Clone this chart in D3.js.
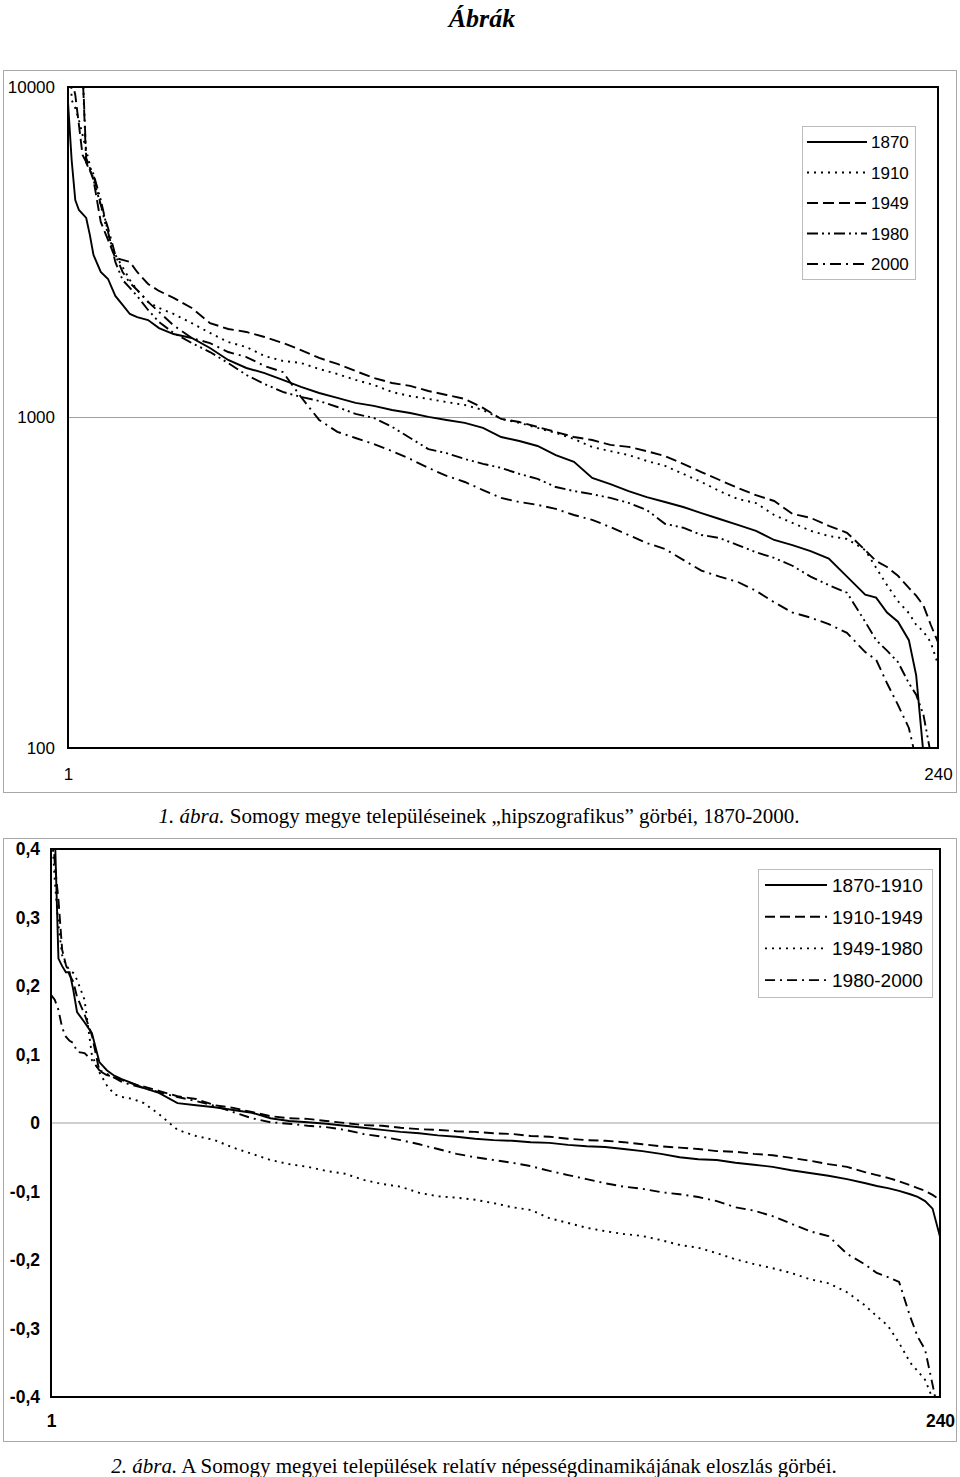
<!DOCTYPE html>
<html>
<head>
<meta charset="utf-8">
<script src="https://cdn.jsdelivr.net/npm/d3@7/dist/d3.min.js"></script>
<style>
  html, body { margin: 0; padding: 0; background: #fff; }
  svg { display: block; }
</style>
</head>
<body>
<script>
// ---------- DATA ----------
const ranks = [1,2,3,4,5,6,7,8,10,12,14,16,18,20,23,26,30,35,40,45,50,55,60,65,70,75,80,85,90,95,100,105,110,115,120,125,130,135,140,145,150,155,160,165,170,175,180,185,190,195,200,205,210,215,220,223,226,229,232,234,236,238,240];

// Figure 1: population by rank (log scale)
const pop1870 = [9010,6015,4552,4246,4130,4016,3568,3104,2757,2625,2332,2191,2057,2013,1972,1865,1789,1740,1623,1493,1412,1363,1299,1237,1186,1146,1107,1084,1054,1032,1004,983,963,930,873,849,820,770,734,656,629,599,574,555,536,514,493,473,454,426,411,394,374,330,291,285,257,241,212,166,96,76,66];
const pop1910 = [24100,9133,8638,7947,7159,6449,5810,5233,4397,3568,3103,2854,2607,2432,2237,2145,2057,1931,1802,1692,1634,1535,1483,1462,1402,1354,1299,1255,1194,1161,1138,1114,1091,1054,990,963,930,898,861,814,791,770,739,714,675,638,599,567,551,507,480,454,438,429,397,351,311,278,256,236,225,209,179];
const pop1949 = [33000,10600,9458,7676,6229,5932,5610,5233,3905,3445,3039,2997,2956,2757,2535,2415,2300,2145,1931,1853,1815,1752,1681,1600,1514,1452,1382,1317,1272,1246,1203,1170,1138,1069,990,969,936,904,873,855,826,815,791,764,724,684,647,612,582,559,511,497,470,448,397,368,353,332,305,289,270,236,209];
const pop1980 = [72000,20500,12800,12200,11500,6099,5690,5456,4552,3643,2956,2607,2466,2332,2115,1945,1802,1680,1578,1462,1345,1263,1195,1154,1122,1076,1025,997,937,867,802,780,749,724,704,675,652,616,599,586,571,552,525,477,464,441,432,411,391,376,356,330,311,295,241,212,197,182,157,145,126,96,83];
const pop2000 = [67000,22000,12000,11800,11200,5900,5570,5416,4397,3746,3103,2757,2553,2432,2237,2086,1900,1740,1680,1578,1524,1432,1373,1154,983,905,867,831,791,749,704,666,638,603,571,555,544,529,507,490,466,441,417,400,371,344,330,318,299,276,257,248,237,223,195,185,157,135,115,92,76,65,55];

// Figure 2: relative population dynamics by rank
const dyn1870_1910 = [0.62,0.43,0.24,0.229,0.22,0.22,0.194,0.162,0.147,0.131,0.089,0.077,0.069,0.064,0.058,0.051,0.044,0.029,0.026,0.023,0.019,0.015,0.007,0.003,0.001,-0.001,-0.004,-0.007,-0.010,-0.013,-0.015,-0.018,-0.020,-0.023,-0.025,-0.026,-0.028,-0.029,-0.032,-0.034,-0.035,-0.038,-0.041,-0.045,-0.050,-0.053,-0.054,-0.058,-0.061,-0.064,-0.069,-0.073,-0.077,-0.082,-0.088,-0.092,-0.095,-0.099,-0.104,-0.108,-0.114,-0.125,-0.166];
const dyn1910_1949 = [0.48,0.38,0.326,0.253,0.231,0.216,0.206,0.184,0.159,0.128,0.076,0.070,0.067,0.063,0.057,0.053,0.047,0.039,0.035,0.026,0.022,0.016,0.010,0.007,0.006,0.003,0.000,-0.003,-0.004,-0.007,-0.009,-0.010,-0.012,-0.013,-0.015,-0.016,-0.019,-0.020,-0.023,-0.025,-0.026,-0.028,-0.031,-0.034,-0.036,-0.038,-0.041,-0.042,-0.045,-0.047,-0.051,-0.055,-0.060,-0.064,-0.072,-0.076,-0.080,-0.085,-0.091,-0.095,-0.099,-0.105,-0.112];
const dyn1949_1980 = [0.45,0.355,0.289,0.245,0.231,0.223,0.219,0.209,0.180,0.099,0.074,0.055,0.042,0.038,0.035,0.029,0.013,-0.010,-0.019,-0.025,-0.036,-0.045,-0.054,-0.060,-0.064,-0.070,-0.074,-0.083,-0.089,-0.093,-0.102,-0.107,-0.109,-0.112,-0.117,-0.123,-0.127,-0.139,-0.146,-0.153,-0.158,-0.162,-0.165,-0.171,-0.178,-0.182,-0.190,-0.199,-0.206,-0.212,-0.219,-0.228,-0.234,-0.247,-0.267,-0.282,-0.296,-0.321,-0.350,-0.362,-0.375,-0.402,-0.45];
const dyn1980_2000 = [0.187,0.180,0.165,0.139,0.126,0.120,0.117,0.104,0.102,0.092,0.077,0.072,0.066,0.060,0.055,0.051,0.045,0.038,0.032,0.025,0.016,0.007,0.001,-0.001,-0.004,-0.006,-0.010,-0.016,-0.020,-0.025,-0.031,-0.038,-0.045,-0.050,-0.054,-0.058,-0.063,-0.070,-0.076,-0.082,-0.088,-0.093,-0.096,-0.101,-0.104,-0.108,-0.114,-0.123,-0.128,-0.136,-0.147,-0.158,-0.165,-0.191,-0.207,-0.219,-0.225,-0.232,-0.283,-0.312,-0.331,-0.382,-0.434];

const series1Names = ["1870","1910","1949","1980","2000"];
const series2Names = ["1870-1910","1910-1949","1949-1980","1980-2000"];
const yTicks1 = [100, 1000, 10000];
const yTicks2 = [-0.4,-0.3,-0.2,-0.1,0,0.1,0.2,0.3,0.4];
const xTickLabels = ["1","240"];
const xTickRanks = [1, 240];

// ---------- STYLES ----------
const SANS = "'Liberation Sans', Arial, Helvetica, sans-serif";
const SERIF = "'Liberation Serif', 'Times New Roman', serif";
const dash1 = { "1870": null, "1910": "2,5", "1949": "11,5", "1980": "11,4,2,4,2,4", "2000": "11,5,2,5" };
const dash2 = { "1870-1910": null, "1910-1949": "10,5", "1949-1980": "2,5", "1980-2000": "10,5,2,5" };

const svg = d3.select("body").append("svg").attr("width", 960).attr("height", 1477);
svg.append("rect").attr("width", 960).attr("height", 1477).attr("fill", "#fff");

// Page title
svg.append("text").attr("x", 482).attr("y", 27).attr("text-anchor", "middle")
  .attr("font-family", SERIF).attr("font-size", 26).attr("font-weight", "bold").attr("font-style", "italic")
  .text("Ábrák");

// ================= FIGURE 1 =================
const p1 = { l: 68, r: 938, t: 87, b: 748 };
svg.append("rect").attr("x", 3.5).attr("y", 70.5).attr("width", 953).attr("height", 722)
  .attr("fill", "none").attr("stroke", "#a8a8a8");

const x1 = d3.scaleLinear().domain([1, 240]).range([p1.l, p1.r]);
const y1 = d3.scaleLog().domain([100, 10000]).range([p1.b, p1.t]);

svg.append("clipPath").attr("id", "clip1").append("rect")
  .attr("x", p1.l).attr("y", p1.t).attr("width", p1.r - p1.l).attr("height", p1.b - p1.t);

svg.append("line").attr("x1", p1.l).attr("x2", p1.r).attr("y1", y1(1000)).attr("y2", y1(1000))
  .attr("stroke", "#a0a0a0").attr("stroke-width", 1);

const ya1 = svg.append("g").attr("transform", `translate(${p1.l},0)`)
  .call(d3.axisLeft(y1).tickValues(yTicks1).tickFormat(d3.format("d")).tickSize(0).tickPadding(13));
ya1.select(".domain").remove();
ya1.selectAll("text").attr("font-family", SANS).attr("font-size", 17).attr("fill", "#000");

const xa1 = svg.append("g").attr("transform", `translate(0,${p1.b})`)
  .call(d3.axisBottom(x1).tickValues(xTickRanks).tickFormat((d, i) => xTickLabels[i]).tickSize(0).tickPadding(20));
xa1.select(".domain").remove();
xa1.selectAll("text").attr("font-family", SANS).attr("font-size", 17).attr("fill", "#000");

const series1 = [pop1870, pop1910, pop1949, pop1980, pop2000];
const line1 = d3.line().x(d => x1(d[0])).y(d => y1(d[1]));
const g1 = svg.append("g").attr("clip-path", "url(#clip1)");
series1.forEach((vals, i) => {
  const name = series1Names[i];
  g1.append("path").datum(ranks.map((r, j) => [r, vals[j]]))
    .attr("d", line1).attr("fill", "none").attr("stroke", "#000")
    .attr("stroke-width", 1.9).attr("stroke-dasharray", dash1[name]);
});

svg.append("rect").attr("x", p1.l).attr("y", p1.t).attr("width", p1.r - p1.l).attr("height", p1.b - p1.t)
  .attr("fill", "none").attr("stroke", "#000").attr("stroke-width", 2);

// legend 1
const lg1 = svg.append("g");
lg1.append("rect").attr("x", 802.5).attr("y", 126.5).attr("width", 113).attr("height", 153)
  .attr("fill", "#fff").attr("stroke", "#bcbcbc");
series1Names.forEach((name, i) => {
  const yy = 142 + i * 30.5;
  lg1.append("line").attr("x1", 807).attr("x2", 867).attr("y1", yy).attr("y2", yy)
    .attr("stroke", "#000").attr("stroke-width", 1.9).attr("stroke-dasharray", dash1[name]);
  lg1.append("text").attr("x", 871).attr("y", yy + 6).attr("font-family", SANS).attr("font-size", 17).text(name);
});

// caption 1
const c1 = svg.append("text").attr("x", 479).attr("y", 823).attr("text-anchor", "middle")
  .attr("font-family", SERIF).attr("font-size", 21);
c1.append("tspan").attr("font-style", "italic").text("1. ábra.");
c1.append("tspan").text(" Somogy megye településeinek \u201Ehipszografikus\u201D görbéi, 1870-2000.");

// ================= FIGURE 2 =================
const p2 = { l: 51, r: 940, t: 849, b: 1397 };
svg.append("rect").attr("x", 3.5).attr("y", 838.5).attr("width", 953).attr("height", 603)
  .attr("fill", "none").attr("stroke", "#a8a8a8");

const x2 = d3.scaleLinear().domain([1, 240]).range([p2.l, p2.r]);
const y2 = d3.scaleLinear().domain([-0.4, 0.4]).range([p2.b, p2.t]);

svg.append("clipPath").attr("id", "clip2").append("rect")
  .attr("x", p2.l).attr("y", p2.t).attr("width", p2.r - p2.l).attr("height", p2.b - p2.t);

svg.append("line").attr("x1", p2.l).attr("x2", p2.r).attr("y1", y2(0)).attr("y2", y2(0))
  .attr("stroke", "#a0a0a0").attr("stroke-width", 1);

const fmt2 = d => d === 0 ? "0" : d3.format(".1f")(d).replace(".", ",").replace("\u2212", "-");
const ya2 = svg.append("g").attr("transform", `translate(${p2.l},0)`)
  .call(d3.axisLeft(y2).tickValues(yTicks2).tickFormat(fmt2).tickSize(0).tickPadding(11));
ya2.select(".domain").remove();
ya2.selectAll("text").attr("font-family", SANS).attr("font-size", 17.5).attr("font-weight", "bold").attr("fill", "#000");

const xa2 = svg.append("g").attr("transform", `translate(0,${p2.b})`)
  .call(d3.axisBottom(x2).tickValues(xTickRanks).tickFormat((d, i) => xTickLabels[i]).tickSize(0).tickPadding(18));
xa2.select(".domain").remove();
xa2.selectAll("text").attr("font-family", SANS).attr("font-size", 17.5).attr("font-weight", "bold").attr("fill", "#000");

const series2 = [dyn1870_1910, dyn1910_1949, dyn1949_1980, dyn1980_2000];
const line2 = d3.line().x(d => x2(d[0])).y(d => y2(d[1]));
const g2 = svg.append("g").attr("clip-path", "url(#clip2)");
series2.forEach((vals, i) => {
  const name = series2Names[i];
  g2.append("path").datum(ranks.map((r, j) => [r, vals[j]]))
    .attr("d", line2).attr("fill", "none").attr("stroke", "#000")
    .attr("stroke-width", 1.9).attr("stroke-dasharray", dash2[name]);
});

svg.append("rect").attr("x", p2.l).attr("y", p2.t).attr("width", p2.r - p2.l).attr("height", p2.b - p2.t)
  .attr("fill", "none").attr("stroke", "#000").attr("stroke-width", 2);

// legend 2
const lg2 = svg.append("g");
lg2.append("rect").attr("x", 758.5).attr("y", 869.5).attr("width", 174).attr("height", 128)
  .attr("fill", "#fff").attr("stroke", "#bcbcbc");
series2Names.forEach((name, i) => {
  const yy = 885 + i * 31.7;
  lg2.append("line").attr("x1", 765).attr("x2", 827).attr("y1", yy).attr("y2", yy)
    .attr("stroke", "#000").attr("stroke-width", 1.9).attr("stroke-dasharray", dash2[name]);
  lg2.append("text").attr("x", 832).attr("y", yy + 7).attr("font-family", SANS).attr("font-size", 19).text(name);
});

// caption 2
const c2 = svg.append("text").attr("x", 474).attr("y", 1473).attr("text-anchor", "middle")
  .attr("font-family", SERIF).attr("font-size", 21);
c2.append("tspan").attr("font-style", "italic").text("2. ábra.");
c2.append("tspan").text(" A Somogy megyei települések relatív népességdinamikájának eloszlás görbéi.");
</script>
</body>
</html>
